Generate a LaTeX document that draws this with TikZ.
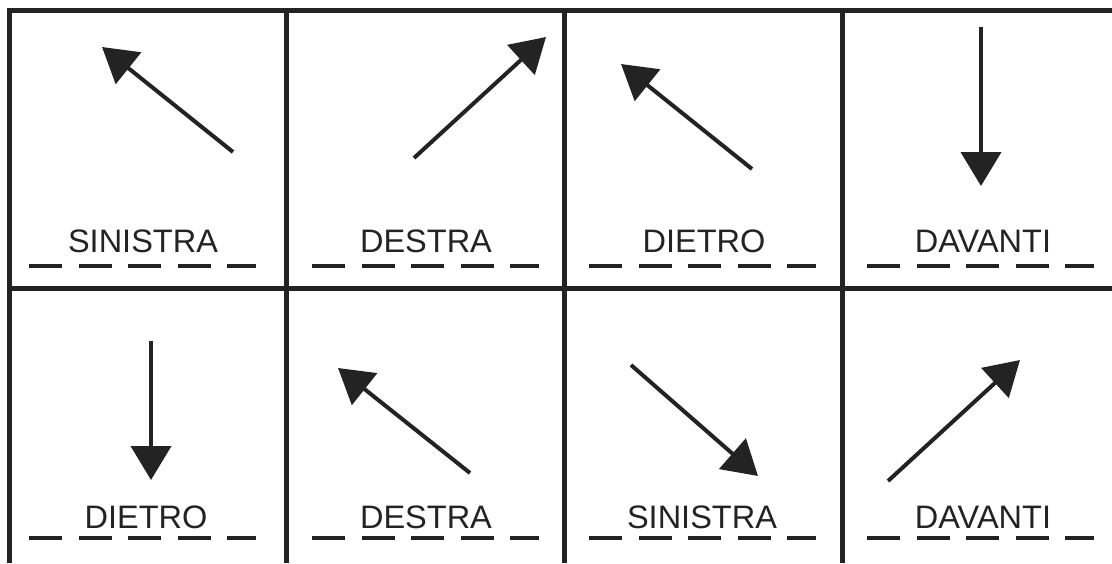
\documentclass[tikz,border=0pt]{standalone}
\usepackage{fontspec}
\setmainfont{Liberation Sans}
\usetikzlibrary{arrows.meta}
\definecolor{ink}{RGB}{35,35,35}
\tikzset{
  gridline/.style={draw=ink, line width=5pt},
  dirarrow/.style={draw=ink, line width=4pt, -{Triangle[length=34pt,width=40pt]}},
  baseline dash/.style={draw=ink, line width=4.5pt, dash pattern=on 33pt off 16.5pt},
  lbl/.style={text=ink, anchor=base, inner sep=0pt, font=\fontsize{32.5}{36}\selectfont}
}
\begin{document}
\begin{tikzpicture}[x=1pt,y=-1pt]
\useasboundingbox (0,0) rectangle (1112,563);
\fill[white] (0,0) rectangle (1112,563);
% grid
\coordinate (tl) at (9,10);
\coordinate (tr) at (1112,10);
\coordinate (ml) at (9,288);
\coordinate (mr) at (1112,288);
\foreach \x/\n in {9/a,286/b,564/c,842/d}{
  \coordinate (v\n top) at (\x,10);
  \coordinate (v\n bot) at (\x,563);
  \draw[gridline] (v\n top) -- (v\n bot);
}
\draw[gridline] ([xshift=-2.5pt]tl) -- (tr);
\draw[gridline] ([xshift=-2.5pt]ml) -- (mr);
% labels
\node[lbl] (l1) at (143,252) {SINISTRA};
\node[lbl] (l2) at (426,252) {DESTRA};
\node[lbl] (l3) at (704,252) {DIETRO};
\node[lbl] (l4) at (983,252) {DAVANTI};
\node[lbl] (l5) at (146,528) {DIETRO};
\node[lbl] (l6) at (426,528) {DESTRA};
\node[lbl] (l7) at (702,528) {SINISTRA};
\node[lbl] (l8) at (983,528) {DAVANTI};
% dashed baselines
\foreach \x/\n in {29/1,312/2,589/3,867/4}{
  \coordinate (d\n s) at (\x,266);
  \coordinate (d\n e) at (\x+226.5,266);
  \draw[baseline dash] (d\n s) -- (d\n e);
}
\foreach \x/\n in {29/5,312/6,589/7,867/8}{
  \coordinate (d\n s) at (\x,538);
  \coordinate (d\n e) at (\x+226.5,538);
  \draw[baseline dash] (d\n s) -- (d\n e);
}
% arrows
\coordinate (t1) at (233,152); \coordinate (h1) at (102,47);
\coordinate (t2) at (414,158); \coordinate (h2) at (546,37);
\coordinate (t3) at (752,169); \coordinate (h3) at (621,64);
\coordinate (t4) at (981,27);  \coordinate (h4) at (981,186);
\coordinate (t5) at (151,341); \coordinate (h5) at (151,480);
\coordinate (t6) at (470,473); \coordinate (h6) at (338,368);
\coordinate (t7) at (631,365); \coordinate (h7) at (758,476);
\coordinate (t8) at (888,481); \coordinate (h8) at (1020,360);
\foreach \i in {1,...,8}{
  \draw[dirarrow] (t\i) -- (h\i);
}
\end{tikzpicture}
\end{document}
